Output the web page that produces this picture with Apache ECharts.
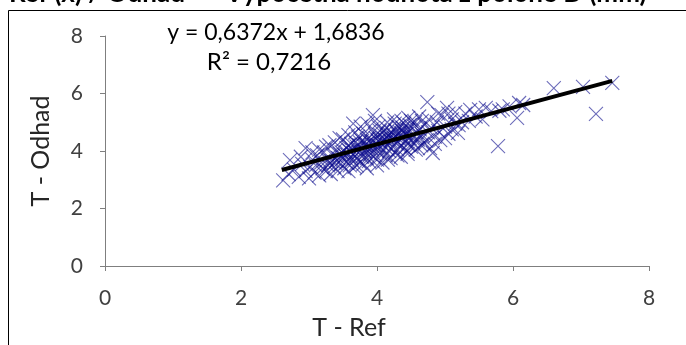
<!DOCTYPE html>
<html>
<head>
<meta charset="utf-8">
<script src="https://cdn.jsdelivr.net/npm/echarts@6/dist/echarts.min.js"></script>
<style>
html,body{margin:0;padding:0;background:#fff;}
#chart{width:686px;height:345px;}
</style>
</head>
<body>
<div id="chart"></div>
<script>
// Data
var chartTitle = 'Ref (x) / Odhad  –  Vypočetná hodnota z polohe D (mm)';
var xAxisTitle = 'T - Ref';
var yAxisTitle = 'T - Odhad';
var equationText = 'y = 0,6372x + 1,6836';
var r2Text = 'R² = 0,7216';
var trendSlope = 0.6372;
var trendIntercept = 1.6836;
var trendRange = [2.6, 7.46];

var refX = [
2.62,2.70,2.78,2.85,2.90,2.95,3.00,3.02,3.05,3.08,3.10,3.12,3.15,3.18,3.20,3.22,3.25,3.27,3.30,3.30,
3.32,3.35,3.37,3.40,3.40,3.42,3.45,3.47,3.50,3.50,3.52,3.55,3.55,3.57,3.60,3.60,3.62,3.63,3.65,3.65,
3.67,3.70,3.70,3.72,3.73,3.75,3.75,3.77,3.78,3.80,3.80,3.82,3.83,3.85,3.85,3.87,3.88,3.90,3.90,3.92,
3.93,3.94,3.95,3.96,3.98,4.00,4.00,4.01,4.02,4.03,4.05,4.05,4.07,4.08,4.10,4.10,4.12,4.13,4.15,4.15,
4.17,4.18,4.20,4.20,4.22,4.23,4.25,4.25,4.27,4.28,4.30,4.30,4.32,4.33,4.35,4.35,4.37,4.38,4.40,4.40,
4.42,4.43,4.45,4.45,4.47,4.48,4.50,4.50,4.52,4.53,4.55,4.57,4.58,4.60,4.62,4.63,4.65,4.67,4.70,4.72,
4.74,4.75,4.78,4.80,4.82,4.85,4.88,4.90,4.93,4.95,5.00,5.03,5.05,5.10,5.15,5.19,5.25,5.30,5.37,5.45,
5.55,5.68,5.78,5.85,6.06,6.09,6.60,7.03,7.22,7.46,
2.95,2.72,2.88,3.05,3.15,3.25,3.38,3.45,3.58,3.68,3.76,3.86,3.97,4.04,4.14,4.26,4.36,4.46,4.56,4.66,
4.76,3.55,3.62,3.72,3.82,3.92,4.02,4.12,4.22,4.32,4.42,4.52,4.62,3.48,3.58,3.68,3.78,3.88,3.98,4.08,
4.18,4.28,4.38,4.48,3.33,3.43,3.53,3.63,3.74,3.84,3.94,4.04,4.14,4.24,4.34,4.44,3.28,3.38,3.58,3.70,
3.85,4.00,4.16,4.30,4.45,4.60,4.70,4.85,5.00,5.10,5.20,5.35,5.50,5.60,5.80,5.95,6.15,4.90,5.05,5.15
];
var odhadY = [
2.98,3.20,3.35,3.10,3.55,3.30,3.05,3.45,3.70,3.25,3.50,3.85,3.15,3.60,3.40,3.95,3.30,3.70,3.55,4.20,
3.20,3.85,3.45,3.65,4.05,3.30,3.90,3.55,3.75,4.40,3.40,4.10,3.60,3.85,3.50,4.00,4.25,3.70,4.95,3.90,
3.45,4.15,3.75,4.50,3.95,3.60,4.30,4.05,3.80,4.60,3.55,4.20,3.95,4.40,3.75,4.10,3.65,4.30,3.90,4.75,
4.05,5.25,3.80,4.20,4.45,3.70,4.00,4.35,4.85,4.15,3.90,4.55,4.25,3.60,4.05,4.70,4.40,3.85,4.20,5.00,
4.55,4.00,4.35,3.75,4.65,4.15,4.45,5.10,3.95,4.30,4.60,4.05,4.85,4.40,4.20,3.80,4.70,4.50,4.10,4.95,
4.35,4.60,4.25,3.90,4.75,4.45,4.15,5.05,4.55,4.30,4.85,4.05,4.65,4.40,5.20,4.75,4.20,4.55,4.90,4.35,
5.70,4.65,4.10,4.80,3.93,4.50,5.00,4.70,4.38,5.25,4.85,5.50,4.60,5.10,5.35,4.63,5.00,5.30,5.43,5.20,
5.10,5.39,4.17,5.45,5.15,5.67,6.19,6.23,5.29,6.37,
4.10,3.68,3.80,3.95,4.05,4.15,4.30,4.45,4.55,4.65,4.85,4.95,5.05,4.70,4.80,4.95,5.05,5.15,5.00,5.05,
5.10,3.95,3.80,4.05,4.00,4.10,4.20,4.30,4.40,4.50,4.55,4.45,4.50,3.95,4.20,4.30,4.35,4.45,4.55,4.45,
4.60,4.70,4.80,4.90,3.65,3.75,3.85,4.05,4.20,4.25,4.35,4.40,4.50,4.55,4.65,4.75,3.50,3.60,3.30,3.50,
3.40,3.50,3.70,3.85,4.00,4.10,4.25,4.25,4.45,4.75,4.90,5.05,5.45,5.50,5.40,5.55,5.60,5.30,5.30,4.95
];

var points = refX.map(function(x, i){ return [x, odhadY[i]]; });
var trendData = trendRange.map(function(x){ return [x, trendSlope * x + trendIntercept]; });

var chart = echarts.init(document.getElementById('chart'), null, {renderer:'canvas'});
var fontFam = 'Lato, "Open Sans", sans-serif';
var axisCommon = {
  type: 'value', min: 0, max: 8, interval: 2,
  splitLine: {show:false},
  axisLine: {show:true, onZero:false, lineStyle:{color:'#7f7f7f', width:1}},
  axisTick: {show:true, length:5, lineStyle:{color:'#7f7f7f'}},
  axisLabel: {color:'#404040', fontSize:21, fontFamily:fontFam, margin:22},
  nameLocation: 'middle',
  nameTextStyle: {color:'#262626', fontSize:25, fontFamily:fontFam}
};
chart.setOption({
  animation: false,
  backgroundColor: '#fff',
  grid: {left:105, right:37, top:36, bottom:79, containLabel:false},
  xAxis: Object.assign({}, axisCommon, {name: ''}),
  yAxis: Object.assign({}, axisCommon, {name: yAxisTitle, nameGap: 52, nameRotate: 90}),
  graphic: [
    {type:'rect', silent:true, z:-1, shape:{x:8.5, y:10.5, width:720, height:400},
     style:{fill:'none', stroke:'#000', lineWidth:1}},
    {type:'text', silent:true, x:9, y:7,
     style:{text: chartTitle, fill:'#000', font:'bold 26px ' + fontFam, textVerticalAlign:'bottom'}},
    {type:'text', silent:true, x:349, y:328,
     style:{text: xAxisTitle, fill:'#262626', font:'25px ' + fontFam, textAlign:'center', textVerticalAlign:'middle'}},
    {type:'text', silent:true, x:276, y:33,
     style:{text: equationText, fill:'#000', font:'23px ' + fontFam, textAlign:'center', textVerticalAlign:'middle'}},
    {type:'text', silent:true, x:269, y:62,
     style:{text: r2Text, fill:'#000', font:'24px ' + fontFam, textAlign:'center', textVerticalAlign:'middle'}}
  ],
  series: [
    {type:'scatter', data: points, symbol:'path://M0,0L10,10M10,0L0,10', symbolSize:14,
     itemStyle:{color:'rgba(0,0,0,0)', borderColor:'rgba(10,10,140,0.75)', borderWidth:1.1}},
    {type:'line', data: trendData, showSymbol:false, symbol:'none',
     lineStyle:{color:'#000', width:4}, z:5}
  ]
});
</script>
</body>
</html>
